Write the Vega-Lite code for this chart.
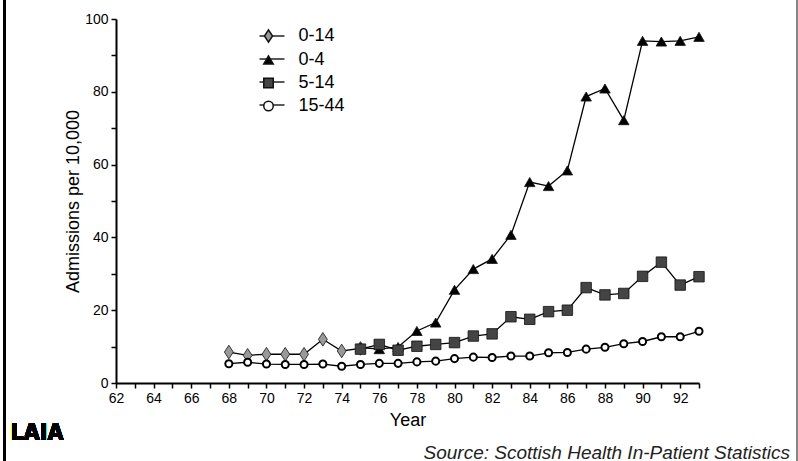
{
  "$schema": "https://vega.github.io/schema/vega-lite/v6.json",
  "width": 583,
  "height": 364,
  "autosize": {"type": "none"},
  "padding": {"left": 116, "top": 19, "right": 99, "bottom": 78},
  "background": "white",
  "config": {
    "view": {"stroke": null},
    "font": "Liberation Sans",
    "axis": {"grid": false, "domainColor": "black", "tickColor": "black", "labelColor": "black", "titleColor": "black", "labelFont": "Liberation Sans", "titleFont": "Liberation Sans", "titleFontWeight": "normal"},
    "legend": {
      "orient": "none", "legendY": 8, "title": null, "padding": 0,
      "labelFontSize": 18, "labelColor": "black", "labelFont": "Liberation Sans",
      "rowPadding": 5, "labelOffset": 21, "symbolOpacity": 1
    }
  },
  "title": {
    "text": "Source: Scottish Health In-Patient Statistics",
    "orient": "bottom",
    "anchor": "end",
    "frame": "group",
    "fontStyle": "italic",
    "fontWeight": "normal",
    "fontSize": 19,
    "font": "Liberation Sans",
    "color": "#222",
    "dx": 91,
    "offset": -19
  },
  "data": {
    "values": [
      {"year": 68, "series": "0-14", "value": 8.5},
      {"year": 69, "series": "0-14", "value": 7.6},
      {"year": 70, "series": "0-14", "value": 7.9},
      {"year": 71, "series": "0-14", "value": 7.9},
      {"year": 72, "series": "0-14", "value": 7.9},
      {"year": 73, "series": "0-14", "value": 12.0},
      {"year": 74, "series": "0-14", "value": 8.8},
      {"year": 75, "series": "0-14", "value": 9.5},
      {"year": 75, "series": "0-4", "value": 9.75},
      {"year": 76, "series": "0-4", "value": 9.3},
      {"year": 77, "series": "0-4", "value": 9.9},
      {"year": 78, "series": "0-4", "value": 14.3},
      {"year": 79, "series": "0-4", "value": 16.6},
      {"year": 80, "series": "0-4", "value": 25.6},
      {"year": 81, "series": "0-4", "value": 31.3},
      {"year": 82, "series": "0-4", "value": 34.1},
      {"year": 83, "series": "0-4", "value": 40.7},
      {"year": 84, "series": "0-4", "value": 55.2},
      {"year": 85, "series": "0-4", "value": 54.1},
      {"year": 86, "series": "0-4", "value": 58.4},
      {"year": 87, "series": "0-4", "value": 78.7},
      {"year": 88, "series": "0-4", "value": 80.9},
      {"year": 89, "series": "0-4", "value": 72.2},
      {"year": 90, "series": "0-4", "value": 94.0},
      {"year": 91, "series": "0-4", "value": 93.8},
      {"year": 92, "series": "0-4", "value": 94.0},
      {"year": 93, "series": "0-4", "value": 95.1},
      {"year": 75, "series": "5-14", "value": 9.3},
      {"year": 76, "series": "5-14", "value": 10.6},
      {"year": 77, "series": "5-14", "value": 9.0},
      {"year": 78, "series": "5-14", "value": 10.1},
      {"year": 79, "series": "5-14", "value": 10.6},
      {"year": 80, "series": "5-14", "value": 11.1},
      {"year": 81, "series": "5-14", "value": 12.9},
      {"year": 82, "series": "5-14", "value": 13.5},
      {"year": 83, "series": "5-14", "value": 18.2},
      {"year": 84, "series": "5-14", "value": 17.5},
      {"year": 85, "series": "5-14", "value": 19.6},
      {"year": 86, "series": "5-14", "value": 20.0},
      {"year": 87, "series": "5-14", "value": 26.2},
      {"year": 88, "series": "5-14", "value": 24.2},
      {"year": 89, "series": "5-14", "value": 24.6},
      {"year": 90, "series": "5-14", "value": 29.3},
      {"year": 91, "series": "5-14", "value": 33.2},
      {"year": 92, "series": "5-14", "value": 26.9},
      {"year": 93, "series": "5-14", "value": 29.2},
      {"year": 68, "series": "15-44", "value": 5.3},
      {"year": 69, "series": "15-44", "value": 5.7},
      {"year": 70, "series": "15-44", "value": 5.2},
      {"year": 71, "series": "15-44", "value": 5.1},
      {"year": 72, "series": "15-44", "value": 5.1},
      {"year": 73, "series": "15-44", "value": 5.2},
      {"year": 74, "series": "15-44", "value": 4.6},
      {"year": 75, "series": "15-44", "value": 5.1},
      {"year": 76, "series": "15-44", "value": 5.4},
      {"year": 77, "series": "15-44", "value": 5.4},
      {"year": 78, "series": "15-44", "value": 5.8},
      {"year": 79, "series": "15-44", "value": 6.0},
      {"year": 80, "series": "15-44", "value": 6.7},
      {"year": 81, "series": "15-44", "value": 7.1},
      {"year": 82, "series": "15-44", "value": 7.0},
      {"year": 83, "series": "15-44", "value": 7.4},
      {"year": 84, "series": "15-44", "value": 7.4},
      {"year": 85, "series": "15-44", "value": 8.3},
      {"year": 86, "series": "15-44", "value": 8.4},
      {"year": 87, "series": "15-44", "value": 9.3},
      {"year": 88, "series": "15-44", "value": 9.8},
      {"year": 89, "series": "15-44", "value": 10.8},
      {"year": 90, "series": "15-44", "value": 11.4},
      {"year": 91, "series": "15-44", "value": 12.7},
      {"year": 92, "series": "15-44", "value": 12.7},
      {"year": 93, "series": "15-44", "value": 14.2}
    ]
  },
  "encoding": {
    "x": {
      "field": "year", "type": "quantitative",
      "scale": {"domain": [62, 93], "nice": false, "zero": false},
      "axis": {
        "title": "Year", "titleFontSize": 18, "titlePadding": 6,
        "values": [62,63,64,65,66,67,68,69,70,71,72,73,74,75,76,77,78,79,80,81,82,83,84,85,86,87,88,89,90,91,92,93],
        "labelExpr": "datum.value % 2 == 0 ? datum.value : ''",
        "labelFontSize": 14, "labelPadding": 3, "labelFlush": false,
        "domainWidth": 2, "tickWidth": 1.5, "tickSize": 5
      }
    },
    "y": {
      "field": "value", "type": "quantitative",
      "scale": {"domain": [0, 100], "nice": false},
      "axis": {
        "title": "Admissions per 10,000", "titleFontSize": 18, "titlePadding": 2,
        "values": [0,10,20,30,40,50,60,70,80,90,100],
        "labelExpr": "datum.value % 20 == 0 ? datum.value : ''",
        "labelFontSize": 14, "labelPadding": 3,
        "domainWidth": 2, "tickWidth": 1.5, "tickSize": 5
      }
    }
  },
  "layer": [
    {
      "mark": {"type": "rule", "color": "black", "strokeWidth": 2},
      "encoding": {
        "x": {"datum": 56.07, "type": "quantitative"},
        "y": {"datum": 105.5, "type": "quantitative"},
        "y2": {"datum": -21.6}
      }
    },
    {
      "mark": {"type": "rule", "color": "#888", "strokeWidth": 1},
      "encoding": {
        "x": {"datum": 98.2, "type": "quantitative"},
        "y": {"datum": 105.5, "type": "quantitative"},
        "y2": {"datum": -21.6}
      }
    },
    {
      "mark": {"type": "line", "strokeWidth": 1.3},
      "encoding": {
        "stroke": {
          "field": "series", "type": "nominal",
          "sort": ["0-14", "0-4", "5-14", "15-44"],
          "scale": {"range": ["#000000", "#000000", "#000000", "#000000"]},
          "legend": {
            "orient": "none", "legendX": 147, "legendY": 8,
            "symbolType": "M-2.5,0H2.5", "symbolSize": 100, "symbolStrokeWidth": 1.3, "symbolStrokeColor": "#000",
            "labelOpacity": 0
          }
        }
      }
    },
    {
      "transform": [{"filter": "datum.series != '15-44'"}],
      "mark": {"type": "point", "filled": false, "stroke": "#111", "strokeWidth": 0.8, "size": 110, "opacity": 1},
      "encoding": {
        "shape": {
          "field": "series", "type": "nominal",
          "scale": {"domain": ["0-14", "0-4", "5-14", "15-44"], "range": ["M0,-1.3L0.85,0L0,1.3L-0.85,0Z", "triangle-up", "square", "circle"]},
          "legend": {
            "legendX": 143.5, "symbolSize": 90,
            "encode": {"symbols": {"update": {"stroke": {"value": "#111"}, "strokeWidth": {"value": 1.3}}}}
          }
        },
        "fill": {
          "field": "series", "type": "nominal",
          "scale": {"domain": ["0-14", "0-4", "5-14", "15-44"], "range": ["#999999", "#000000", "#444444", "#ffffff"]},
          "legend": {
            "legendX": 143.5, "symbolSize": 90,
            "encode": {"symbols": {"update": {"stroke": {"value": "#111"}, "strokeWidth": {"value": 1.3}}}}
          }
        }
      }
    },
    {
      "transform": [{"filter": "datum.series == '15-44'"}],
      "mark": {"type": "point", "filled": false, "stroke": "#000", "strokeWidth": 2, "size": 50, "opacity": 1},
      "encoding": {
        "shape": {
          "field": "series", "type": "nominal",
          "scale": {"domain": ["0-14", "0-4", "5-14", "15-44"]}
        },
        "fill": {
          "field": "series", "type": "nominal",
          "scale": {"domain": ["0-14", "0-4", "5-14", "15-44"]}
        }
      }
    },
    {
      "mark": {"type": "text", "text": "LAIA", "font": "DejaVu Sans Condensed", "fontWeight": "bold", "fontSize": 23, "color": "black", "baseline": "middle", "align": "center"},
      "encoding": {
        "x": {"datum": 57.8, "type": "quantitative"},
        "y": {"datum": -13.6, "type": "quantitative"}
      }
    }
  ]
}
